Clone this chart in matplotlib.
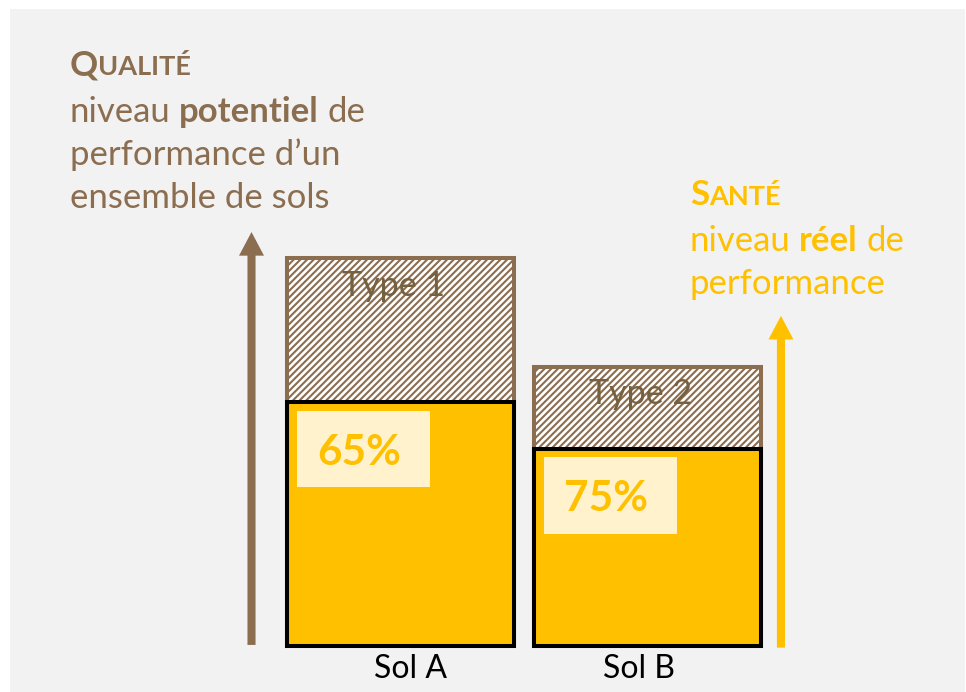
"""Soil quality vs soil health: potential vs actual performance bars."""

import matplotlib

matplotlib.use("Agg")
import matplotlib.pyplot as plt
from matplotlib.patches import Rectangle

plt.rcParams["font.family"] = ["Lato", "DejaVu Sans"]
plt.rcParams["hatch.linewidth"] = 1.5

BROWN = "#8b6d50"
TYPE_BROWN = "#75603f"
YELLOW = "#ffc000"
CREAM = "#fff2cc"
PANEL = "#f2f2f2"

# data
soils = ["Sol A", "Sol B"]
soil_types = ["Type 1", "Type 2"]
potential = [100, 72]          # quality: potential level (relative height)
actual = [63, 51]              # health: actual level (relative height)
health_labels = ["65%", "75%"]

W, H, DPI = 966, 692, 100
BAR_W = 0.919


def fig_xy(x_px, y_px):
    return x_px / W, 1 - y_px / H


def space_width(fig, renderer, size, weight):
    a = fig.text(0, 0, "n n", fontsize=size, fontweight=weight)
    b = fig.text(0, 0, "nn", fontsize=size, fontweight=weight)
    gap = a.get_window_extent(renderer).width - b.get_window_extent(renderer).width
    a.remove()
    b.remove()
    return gap


def draw_runs(fig, renderer, x_px, y_px, runs, color):
    """runs: list of (text, size, weight, lead_space)"""
    x = x_px
    for text, size, weight, lead in runs:
        if lead:
            x += space_width(fig, renderer, size, weight)
        t = fig.text(x / W, 1 - y_px / H, text, fontsize=size, fontweight=weight,
                     color=color, ha="left", va="baseline")
        x = t.get_window_extent(renderer).x1


def build():
    fig = plt.figure(figsize=(W / DPI, H / DPI), dpi=DPI, facecolor="white")
    fig.patches.append(Rectangle(fig_xy(10, H), 955 / W, (H - 9) / H,
                                 transform=fig.transFigure, facecolor=PANEL,
                                 edgecolor="none", zorder=-5))
    ax = fig.add_axes([0, 0, 1, 1])
    ax.set_xlim(-1.621, 2.289)
    ax.set_ylim(-11.73, 166.6)
    ax.axis("off")
    ax.patch.set_alpha(0)

    x = list(range(len(soils)))
    ax.bar(x, potential, width=BAR_W, color="white", edgecolor=BROWN,
           linewidth=2.9, hatch="/////", zorder=2)
    ax.bar(x, actual, width=BAR_W, color=YELLOW, edgecolor="black",
           linewidth=2.9, zorder=3)

    box_w, box_h = 0.538, 19.8
    for i in x:
        left = i - BAR_W / 2 + 0.04
        top = actual[i] - 2.2
        ax.add_patch(Rectangle((left, top - box_h), box_w, box_h,
                               facecolor=CREAM, edgecolor="none", zorder=4))
        ax.text(left + box_w / 2 - 0.018, top - 14.0, health_labels[i],
                ha="center", va="baseline", fontsize=30.5, fontweight="bold",
                color=YELLOW, zorder=5)
        ax.text(i - 0.03, potential[i] - 9.6, soil_types[i], ha="center",
                va="baseline", fontsize=24.5, color=TYPE_BROWN, zorder=5)

    for i, off in zip(x, [0.04, -0.035]):
        ax.text(i + off, -8.1, soils[i], ha="center", va="baseline",
                fontsize=23, color="black")

    # vertical arrows: quality (brown) and health (yellow)
    arrow = dict(arrowstyle="simple,head_width=18,head_length=17,tail_width=5.8",
                 mutation_scale=1, shrinkA=0, shrinkB=0, linewidth=0)
    ax.annotate("", xy=(-0.603, max(potential) + 6.8), xytext=(-0.603, 0.4),
                arrowprops={**arrow, "color": BROWN}, zorder=2)
    ax.annotate("", xy=(1.54, potential[1] + 13.2), xytext=(1.54, -0.3),
                arrowprops={**arrow, "color": YELLOW}, zorder=2)

    fig.canvas.draw()
    renderer = fig.canvas.get_renderer()

    body = 25
    cap, small = 25, 19.5
    draw_runs(fig, renderer, 70, 75,
              [("Q", cap, "bold", False), ("UALITÉ", small, "bold", False)], BROWN)
    draw_runs(fig, renderer, 70, 122,
              [("niveau", body, "normal", False), ("potentiel", body, "bold", True),
               ("de", body, "normal", True)], BROWN)
    draw_runs(fig, renderer, 70, 165, [("performance d’un", body, "normal", False)], BROWN)
    draw_runs(fig, renderer, 70, 208, [("ensemble de sols", body, "normal", False)], BROWN)

    draw_runs(fig, renderer, 690, 205,
              [("S", cap, "bold", False), ("ANTÉ", small, "bold", False)], YELLOW)
    draw_runs(fig, renderer, 690, 251,
              [("niveau", body, "normal", False), ("réel", body, "bold", True),
               ("de", body, "normal", True)], YELLOW)
    draw_runs(fig, renderer, 690, 294, [("performance", body, "normal", False)], YELLOW)

    fig.savefig("out.png", dpi=DPI, facecolor="white")
    plt.close(fig)


if __name__ == "__main__":
    build()
